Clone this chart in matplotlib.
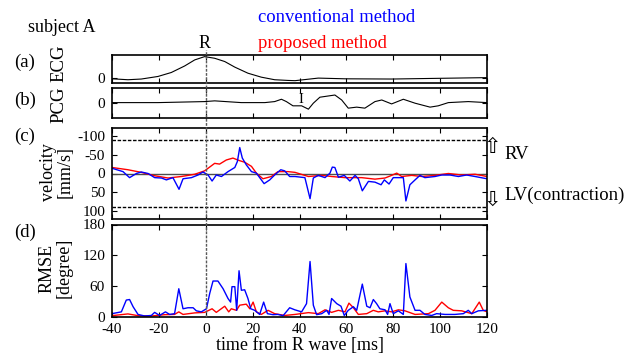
import numpy as np
import matplotlib
matplotlib.use("Agg")
import matplotlib.pyplot as plt
from matplotlib.lines import Line2D
from matplotlib.transforms import blended_transform_factory

plt.rcParams['font.family'] = ['Liberation Serif', 'DejaVu Serif']
plt.rcParams['axes.unicode_minus'] = False

# ECG (arbitrary units)
ecg_t = [-40, -33.2, -27.5, -20.4, -14.7, -9, -4.7, -0.5, 3.8, 8.1, 12.4, 18, 23.7,
         29.4, 35.1, 38.1, 48, 59.4, 79.3, 99.2, 120]
ecg_v = [-0.02, -0.06, -0.03, 0.08, 0.25, 0.53, 0.79, 0.93, 0.86, 0.72, 0.48, 0.22, 0.05,
         -0.06, -0.09, -0.1, 0.01, -0.02, -0.03, 0.0, 0.03]

# PCG (arbitrary units)
pcg_t = [-40, -20.4, -0.5, 3.8, 15.2, 25.2, 29.4, 32.3, 34.4, 37.2, 40.9, 43.8, 45.9,
         48.7, 55.1, 58, 60.8, 64.4, 67.9, 72.2, 75.1, 79.3, 84.3, 89.3, 95.7, 99.2,
         103.5, 112, 120]
pcg_v = [0.02, 0.02, 0.09, 0.14, 0.02, 0.02, 0.09, 0.25, 0.09, -0.2, -0.2, -0.43, -0.02,
         0.39, 0.54, 0.2, -0.36, -0.29, -0.36, 0.09, 0.2, -0.07, 0.25, -0.02, -0.29, -0.2,
         0.02, 0.09, 0.02]

# velocity [mm/s], conventional method
conv_vel_t = [-40, -35.3, -32.5, -29.6, -27.5, -24.6, -21.8, -18.9, -16.8, -14, -11.4, -9.7,
              -6.1, -3.3, -1.2, 1, 2.7, 4.5, 6.7, 9.5, 12.4, 13.5, 14.5, 15.6, 17.3, 19.5,
              21.6, 24.9, 27.3, 29.4, 32, 33.7, 35.8, 38.1, 42.3, 44.5, 45.9, 48, 50.9, 53,
              54, 55.1, 56.6, 59.1, 61.5, 63.7, 65.1, 66.8, 69.4, 72.2, 74.8, 76.2, 78.2, 80,
              82.9, 84.3, 85.4, 87.1, 89.3, 91.4, 93.5, 97.8, 100.7, 104.2, 107.8, 111.3,
              114.9, 120]
conv_vel = [-14, -5, 11, 0, -4, 0, 11, 12, 17, 11, 42, 14,
            11, 4, -4, 4, 20, 4, 8, -5, -16, -32, -69, -41, -23, -5,
            -1, 27, 17, 4, -10, -7, 8, 8, 11, 67, 12, 5, 11, -1,
            -17, -16, 10, 5, 20, 5, 14, 46, 21, 23, 30, 17, 28, 11,
            11, 11, 73, 30, 17, 5, 11, 8, 4, 4, 8, 4,
            8, 14]

# velocity [mm/s], proposed method
prop_vel_t = [-40, -33.2, -27.5, -21.8, -16.1, -10.4, -4.7, -0.5, 3.8, 5.9, 8.8, 11.6, 14.5,
              16.6, 19.5, 21.6, 24.4, 28, 30.8, 35.1, 38.1, 43.8, 49.5, 53.7, 59.4, 66.5,
              72.2, 76.5, 79.3, 81.5, 83.6, 87.9, 92.1, 97.8, 103.5, 109.2, 114.9, 120]
prop_vel = [-16, -10, -3, 6, 12, 8, 2, -7, -27, -25, -36, -41, -34,
            -30, -19, -1, 14, 8, -5, -5, -3, 8, 5, 8, 11, 11,
            15, 12, 5, -1, 8, 5, 8, 5, 0, 4, 2, 8]

# RMSE [degree], conventional method
conv_err_t = [-40, -36, -33.9, -32.5, -31, -28.9, -26.1, -23.2, -21.8, -19.7, -17.2, -15.4,
              -13.3, -11.5, -9.7, -7.6, -5.4, -4, -1.9, 0.3, 1.7, 3.1, 5.2, 7.4, 9.5, 10.6,
              11.2, 12.4, 13.2, 14.2, 15.2, 16.6, 18, 19.2, 20.9, 23, 24.7, 26.3, 28.7, 30.8,
              33, 35.8, 38, 40.9, 43, 44.5, 45.9, 47.3, 49.5, 51.6, 52.6, 53.7, 55.9, 57.7,
              59.1, 60.8, 63, 64.4, 66.8, 68.7, 70.1, 71.5, 72.9, 74.3, 76.5, 77.6, 78.6, 80,
              82.2, 84.3, 85.4, 87.1, 89.3, 91.4, 93.5, 96.4, 98.5, 102.1, 106.3, 109.9, 112,
              113.5, 116.3, 120]
conv_err = [6.5, 10, 33, 34, 20, 5, 2, 3, 9, 3, 10, 5,
            6.5, 55, 16, 18, 18, 12, 10, 16, 46, 70, 70, 55, 36, 29,
            59, 59, 13, 90, 52, 53, 36, 16, 13, 5, 29, 6.5, 4.5, 5,
            2.6, 18, 14, 10, 26, 108, 23, 4.5, 6.5, 13, 5, 36, 26, 21,
            3, 13, 20, 13, 64, 21, 18, 34, 26, 16, 14, 5, 26, 6.5,
            12, 5, 104, 39, 13, 13, 5, 3, 6.5, 5, 5, 6.5, 13,
            6.5, 12, 13]

# RMSE [degree], proposed method
prop_err_t = [-40, -33.2, -28.9, -23.2, -17.5, -13.3, -11.5, -9.7, -4.7, -0.5, 2.7, 4.5,
              8.1, 9.8, 10.9, 13.1, 14.5, 17.3, 18.8, 20.2, 21.6, 23.7, 26.6, 29.4, 33.7,
              38.1, 43.8, 48, 50.9, 53.7, 56.6, 59.4, 61.1, 63, 65.1, 68.7, 71.5, 73.6, 76.5,
              79.3, 82.2, 85, 89.3, 95, 97.8, 100.7, 103.5, 105.6, 109.2, 113.5, 116.7, 118.4,
              120]
prop_err = [2.6, 6, 2.6, 2, 4.5, 5, 10, 5, 8, 9, 16, 9,
            21, 10, 16, 13, 23, 25, 16, 29, 10, 5, 13, 6.5, 3,
            5, 8.5, 6.5, 14, 9, 13, 10, 27, 18, 5, 6.5, 13, 10, 12,
            10, 14, 12, 5, 6.5, 13, 29, 18, 13, 12, 6.5, 29, 13,
            10]

x_ticks = [-40, -20, 0, 20, 40, 60, 80, 100, 120]

W, H = 635, 358
fig = plt.figure(figsize=(W / 100, H / 100), dpi=100)


def box(top, bottom):
    return [112 / W, 1 - bottom / H, (487 - 112) / W, (bottom - top) / H]


ax_a = fig.add_axes(box(55, 83))
ax_b = fig.add_axes(box(88.3, 117.5))
ax_c = fig.add_axes(box(128, 219))
ax_d = fig.add_axes(box(224.5, 317))

for ax in (ax_a, ax_b, ax_c, ax_d):
    ax.set_xlim(-40, 120)
    ax.set_xticks(x_ticks)
    ax.tick_params(direction='in', top=True, right=True, length=3.5, width=0.8,
                   labelsize=11)
    ax.tick_params(axis='y', pad=5)
    ax.tick_params(axis='x', pad=4)
    for s in ax.spines.values():
        s.set_linewidth(1.2)
    if ax is not ax_d:
        ax.tick_params(labelbottom=False)

ax_a.plot(ecg_t, ecg_v, color='black', lw=0.8)
ax_a.set_ylim(-0.2, 1.0)
ax_a.set_yticks([0])

ax_b.plot(pcg_t, pcg_v, color='black', lw=0.8)
ax_b.set_ylim(-1, 1)
ax_b.set_yticks([0])
ax_b.text(40.8, 0.25, 'I', fontsize=10.5, ha='center', va='center')

ax_c.axhline(0, color='0.3', lw=1)
ax_c.axhline(-90, color='black', lw=1, ls=(0, (2.5, 1.2)))
ax_c.axhline(90, color='black', lw=1, ls=(0, (2.5, 1.2)))
ax_c.plot(prop_vel_t, prop_vel, color='red', lw=1)
ax_c.plot(conv_vel_t, conv_vel, color='blue', lw=1)
ax_c.set_ylim(121, -121)
ax_c.set_yticks([-100, -50, 0, 50, 100])

ax_d.plot(prop_err_t, prop_err, color='red', lw=1)
ax_d.plot(conv_err_t, conv_err, color='blue', lw=1)
ax_d.set_ylim(0, 180)
ax_d.set_yticks([0, 60, 120, 180])
ax_d.set_xlabel('time from R wave [ms]', fontsize=13, labelpad=1)

# dotted line at the R wave running through all panels
tr = blended_transform_factory(ax_d.transData, fig.transFigure)
fig.add_artist(Line2D([0, 0], [1 - 317 / H, 1 - 50 / H], transform=tr,
                      color='0.35', lw=1, ls=(0, (2, 1))))


def ftext(x, y, s, **kw):
    fig.text(x / W, 1 - y / H, s, **kw)


ftext(205, 44, 'R', fontsize=13, ha='center', va='center')
ftext(28, 28, 'subject A', fontsize=13, va='center')
ftext(258, 18, 'conventional method', fontsize=13.4, color='blue', va='center')
ftext(258, 43, 'proposed method', fontsize=13.4, color='red', va='center')
for lab, y in (('(a)', 62), ('(b)', 100), ('(c)', 136), ('(d)', 232)):
    ftext(14, y, lab, fontsize=13.5, va='center')
ftext(59, 63, 'ECG', fontsize=13.5, rotation=90, ha='center', va='center')
ftext(59, 105, 'PCG', fontsize=13.5, rotation=90, ha='center', va='center')
ftext(57, 172, 'velocity\n[mm/s]', fontsize=13, rotation=90, ha='center', va='center',
      linespacing=1.0)
ftext(56, 268, 'RMSE\n[degree]', fontsize=13, rotation=90, ha='center', va='center',
      linespacing=1.0)
ftext(492, 147, '\u21e7', fontsize=15, ha='center', va='center', family='DejaVu Sans')
ftext(504, 154, 'RV', fontsize=13.5, va='center')
ftext(492, 200, '\u21e9', fontsize=15, ha='center', va='center', family='DejaVu Sans')
ftext(504, 195, 'LV(contraction)', fontsize=13.5, va='center')

fig.savefig('out.png', dpi=100)
